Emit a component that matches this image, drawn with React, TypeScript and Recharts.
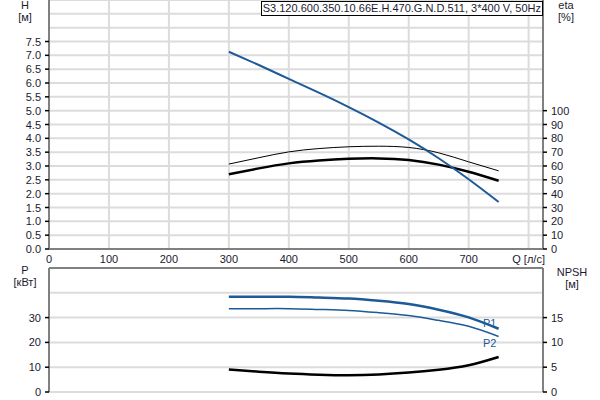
import React from 'react';
import { LineChart, Line, XAxis, YAxis, CartesianGrid, ReferenceLine } from 'recharts';

// flow rate, l/s
const flow = [300, 350, 400, 450, 500, 550, 600, 650, 700, 750];
// head, m
const head = [7.13, 6.65, 6.15, 5.65, 5.13, 4.57, 3.96, 3.28, 2.52, 1.7];
// efficiencies, %
const etaThin = [61.4, 66, 70.2, 72.6, 73.9, 74.3, 73.4, 69.5, 63, 56.5];
const etaThick = [54, 58.3, 61.9, 64, 65.2, 65.5, 64.3, 61, 55.8, 49.3];
// power, kW
const p1 = [38.4, 38.4, 38.4, 38.1, 37.7, 36.8, 35.5, 33.2, 30.1, 25.5];
const p2 = [33.6, 33.6, 33.6, 33.3, 32.9, 32.0, 30.8, 28.9, 26.5, 22.4];
// NPSH, m
const npsh = [4.53, 4.1, 3.73, 3.5, 3.4, 3.55, 3.93, 4.5, 5.4, 7.07];

const qTicks = [0, 100, 200, 300, 400, 500, 600, 700, 800];
const hTicks = [0, 0.5, 1, 1.5, 2, 2.5, 3, 3.5, 4, 4.5, 5, 5.5, 6, 6.5, 7, 7.5, 8, 8.5, 9];
const etaTicks = [0, 10, 20, 30, 40, 50, 60, 70, 80, 90, 100];
const pTicks = [0, 10, 20, 30, 40];
const npshTicks = [0, 5, 10, 15];

const title = 'S3.120.600.350.10.66E.H.470.G.N.D.511, 3*400 V, 50Hz';

const FONT = '"Liberation Sans", Arial, sans-serif';
const TEXT = '#1a1a30';
const AXIS = '#808080';
const GRID = '#dcdcdc';
const BLUE = '#1d5a97';

const topData = flow.map((q, i) => ({ q, h: head[i], etaA: etaThin[i], etaB: etaThick[i] }));
const bottomData = flow.map((q, i) => ({ q, p1: p1[i], p2: p2[i], npsh: npsh[i] }));

function LeftTick({ x, y, payload, maxLabel, decimals }: any) {
  const v = payload.value;
  if (v > maxLabel) return <g />;
  return (
    <g>
      <line x1={x + 4} x2={x + 8} y1={y} y2={y} stroke="#000" strokeWidth={1.5} />
      <text x={x} y={y} dy={4} textAnchor="end" fontSize={11} fontFamily={FONT} fill={TEXT}>
        {decimals ? v.toFixed(1) : v}
      </text>
    </g>
  );
}

function RightTick({ x, y, payload, maxLabel }: any) {
  const v = payload.value;
  if (v > maxLabel) return <g />;
  return (
    <g>
      <line x1={x - 8} x2={x - 4} y1={y} y2={y} stroke="#000" strokeWidth={1.5} />
      <text x={x} y={y} dy={4} textAnchor="start" fontSize={11} fontFamily={FONT} fill={TEXT}>
        {v}
      </text>
    </g>
  );
}

const AxisTitle = ({ x, y, lines }: { x: number; y: number; lines: string[] }) => (
  <text x={x} y={y} textAnchor="middle" fontSize={11} fontFamily={FONT} fill={TEXT}>
    {lines.map((l, i) => (
      <tspan key={i} x={x} dy={i === 0 ? 0 : 12}>
        {l}
      </tspan>
    ))}
  </text>
);

const curveLabel = (text: string, dy: number) => (props: any) => {
  if (props.index !== flow.length - 1) return <g />;
  return (
    <text x={props.x - 9} y={props.y + dy} textAnchor="middle" fontSize={11} fontFamily={FONT} fill={BLUE}>
      {text}
    </text>
  );
};

export default function App() {
  return (
    <div style={{ position: 'absolute', left: 0, top: 0, width: 600, height: 400, background: '#fff', fontFamily: FONT }}>
      <div style={{ position: 'absolute', left: 0, top: 0 }}>
        <LineChart width={600} height={270} data={topData} margin={{ top: 0, right: 0, bottom: 0, left: 0 }}>
          <CartesianGrid yAxisId="h" stroke={GRID} strokeWidth={2} />
          <XAxis
            dataKey="q"
            type="number"
            domain={[0, 824]}
            ticks={qTicks}
            interval={0}
            height={21}
            tickSize={4}
            tickLine={false}
            axisLine={{ stroke: AXIS, strokeWidth: 2 }}
            tick={{ fontSize: 11, fontFamily: FONT, fill: TEXT }}
            tickFormatter={(v: number) => (v === 800 ? 'Q [л/с]' : String(v))}
          />
          <YAxis
            yAxisId="h"
            width={49}
            domain={[0, 9]}
            ticks={hTicks}
            interval={0}
            tickLine={false}
            axisLine={{ stroke: AXIS, strokeWidth: 2 }}
            tick={<LeftTick maxLabel={7.5} decimals />}
          />
          <YAxis
            yAxisId="eta"
            orientation="right"
            width={57}
            domain={[0, 180]}
            ticks={etaTicks}
            interval={0}
            tickLine={false}
            axisLine={{ stroke: AXIS, strokeWidth: 2 }}
            tick={<RightTick maxLabel={100} />}
          />
          <Line yAxisId="eta" dataKey="etaA" type="natural" stroke="#000" strokeWidth={1} dot={false} isAnimationActive={false} />
          <Line yAxisId="eta" dataKey="etaB" type="natural" stroke="#000" strokeWidth={2.5} dot={false} isAnimationActive={false} />
          <Line yAxisId="h" dataKey="h" type="natural" stroke={BLUE} strokeWidth={2} dot={false} isAnimationActive={false} />
          <AxisTitle x={25} y={9} lines={['H', '[м]']} />
          <AxisTitle x={566} y={9} lines={['eta', '[%]']} />
        </LineChart>
      </div>
      <div style={{ position: 'absolute', left: 0, top: 240 }}>
        <LineChart width={600} height={160} data={bottomData} margin={{ top: 28, right: 0, bottom: 8, left: 0 }}>
          <CartesianGrid yAxisId="p" stroke={GRID} strokeWidth={2} />
          <XAxis
            dataKey="q"
            type="number"
            domain={[0, 824]}
            ticks={qTicks}
            interval={0}
            height={0}
            tick={false}
            tickLine={false}
            axisLine={{ stroke: AXIS, strokeWidth: 2 }}
          />
          <YAxis
            yAxisId="p"
            width={49}
            domain={[0, 50]}
            ticks={pTicks}
            interval={0}
            tickLine={false}
            axisLine={{ stroke: AXIS, strokeWidth: 2 }}
            tick={<LeftTick maxLabel={30} />}
          />
          <YAxis
            yAxisId="npsh"
            orientation="right"
            width={57}
            domain={[0, 25]}
            ticks={npshTicks}
            interval={0}
            tickLine={false}
            axisLine={{ stroke: AXIS, strokeWidth: 2 }}
            tick={<RightTick maxLabel={15} />}
          />
          <ReferenceLine yAxisId="p" y={50} stroke={AXIS} strokeWidth={2} />
          <Line yAxisId="npsh" dataKey="npsh" type="natural" stroke="#000" strokeWidth={2.5} dot={false} isAnimationActive={false} />
          <Line yAxisId="p" dataKey="p2" type="natural" stroke={BLUE} strokeWidth={1.5} dot={false} isAnimationActive={false} label={curveLabel('P2', 11)} />
          <Line yAxisId="p" dataKey="p1" type="natural" stroke={BLUE} strokeWidth={2.5} dot={false} isAnimationActive={false} label={curveLabel('P1', -2)} />
          <AxisTitle x={25} y={34} lines={['P', '[кВт]']} />
          <AxisTitle x={572} y={36} lines={['NPSH', '[м]']} />
        </LineChart>
      </div>
      <div
        style={{
          position: 'absolute',
          right: 57,
          top: 1,
          height: 13,
          lineHeight: '13px',
          border: '1px solid #000',
          background: '#fff',
          padding: '0 1px',
          fontSize: 11,
          color: TEXT,
          whiteSpace: 'nowrap',
        }}
      >
        {title}
      </div>
    </div>
  );
}
